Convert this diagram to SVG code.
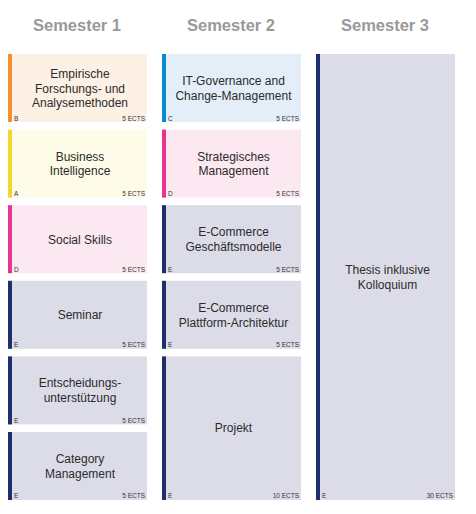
<svg xmlns="http://www.w3.org/2000/svg" width="476" height="514" viewBox="0 0 476 514">
<style>
.hd{font-family:"Liberation Sans",Arial,sans-serif;font-weight:bold;font-size:16.5px;fill:#999;text-anchor:middle}
.t{font-family:"Liberation Sans",Arial,sans-serif;font-size:12px;fill:#2b2b2b;text-anchor:middle}
.s{font-family:"Liberation Sans",Arial,sans-serif;font-size:6.5px;fill:#333}
.r{text-anchor:end}
.o{fill:#fdf0e4}.ob{fill:#f39233}
.y{fill:#fefbe9}.yb{fill:#f6d52a}
.p{fill:#fce8f0}.pb{fill:#e5378f}
.b{fill:#e3eef8}.bb{fill:#0a8ad0}
.n{fill:#dcdce8}.nb{fill:#1f2f6e}
</style>
<rect width="476" height="514" fill="#fff"/>
<g id="headers">
<text class="hd" x="77" y="31">Semester 1</text>
<text class="hd" x="231" y="31">Semester 2</text>
<text class="hd" x="385" y="31">Semester 3</text>
</g>
<g id="connectors"/>
<g id="c1n1"><rect class="o" x="8" y="54" width="139" height="68"/><rect class="ob" x="8" y="54" width="4" height="68"/>
<text class="t" x="80" y="78">Empirische</text><text class="t" x="80" y="93">Forschungs- und</text><text class="t" x="80" y="107">Analysemethoden</text>
<text class="s" x="14" y="120.5">B</text><text class="s r" x="145" y="120.5">5 ECTS</text></g>
<g id="c1n2"><rect class="y" x="8" y="129.6" width="139" height="68"/><rect class="yb" x="8" y="129.6" width="4" height="68"/>
<text class="t" x="80" y="160.5">Business</text><text class="t" x="80" y="175">Intelligence</text>
<text class="s" x="14" y="196">A</text><text class="s r" x="145" y="196">5 ECTS</text></g>
<g id="c1n3"><rect class="p" x="8" y="205.2" width="139" height="68"/><rect class="pb" x="8" y="205.2" width="4" height="68"/>
<text class="t" x="80" y="244">Social Skills</text>
<text class="s" x="14" y="271.6">D</text><text class="s r" x="145" y="271.6">5 ECTS</text></g>
<g id="c1n4"><rect class="n" x="8" y="280.8" width="139" height="68"/><rect class="nb" x="8" y="280.8" width="4" height="68"/>
<text class="t" x="80" y="319">Seminar</text>
<text class="s" x="14" y="347.2">E</text><text class="s r" x="145" y="347.2">5 ECTS</text></g>
<g id="c1n5"><rect class="n" x="8" y="356.4" width="139" height="68"/><rect class="nb" x="8" y="356.4" width="4" height="68"/>
<text class="t" x="80" y="387">Entscheidungs-</text><text class="t" x="80" y="402">unterstützung</text>
<text class="s" x="14" y="422.8">E</text><text class="s r" x="145" y="422.8">5 ECTS</text></g>
<g id="c1n6"><rect class="n" x="8" y="432" width="139" height="68"/><rect class="nb" x="8" y="432" width="4" height="68"/>
<text class="t" x="80" y="463">Category</text><text class="t" x="80" y="478">Management</text>
<text class="s" x="14" y="498.4">E</text><text class="s r" x="145" y="498.4">5 ECTS</text></g>
<g id="c2n1"><rect class="b" x="162" y="54" width="139" height="68"/><rect class="bb" x="162" y="54" width="4" height="68"/>
<text class="t" x="233.5" y="85">IT-Governance and</text><text class="t" x="233.5" y="100">Change-Management</text>
<text class="s" x="168" y="120.5">C</text><text class="s r" x="299" y="120.5">5 ECTS</text></g>
<g id="c2n2"><rect class="p" x="162" y="129.6" width="139" height="68"/><rect class="pb" x="162" y="129.6" width="4" height="68"/>
<text class="t" x="233.5" y="160.5">Strategisches</text><text class="t" x="233.5" y="175">Management</text>
<text class="s" x="168" y="196">D</text><text class="s r" x="299" y="196">5 ECTS</text></g>
<g id="c2n3"><rect class="n" x="162" y="205.2" width="139" height="68"/><rect class="nb" x="162" y="205.2" width="4" height="68"/>
<text class="t" x="233.5" y="236">E-Commerce</text><text class="t" x="233.5" y="251">Geschäftsmodelle</text>
<text class="s" x="168" y="271.6">E</text><text class="s r" x="299" y="271.6">5 ECTS</text></g>
<g id="c2n4"><rect class="n" x="162" y="280.8" width="139" height="68"/><rect class="nb" x="162" y="280.8" width="4" height="68"/>
<text class="t" x="233.5" y="311.5">E-Commerce</text><text class="t" x="233.5" y="326.5">Plattform-Architektur</text>
<text class="s" x="168" y="347.2">E</text><text class="s r" x="299" y="347.2">5 ECTS</text></g>
<g id="c2n5"><rect class="n" x="162" y="356.4" width="139" height="143.6"/><rect class="nb" x="162" y="356.4" width="4" height="143.6"/>
<text class="t" x="233.5" y="432">Projekt</text>
<text class="s" x="168" y="498.4">E</text><text class="s r" x="299" y="498.4">10 ECTS</text></g>
<g id="c3n1"><rect class="n" x="316" y="54" width="139" height="446"/><rect class="nb" x="316" y="54" width="4" height="446"/>
<text class="t" x="387.5" y="274">Thesis inklusive</text><text class="t" x="387.5" y="289">Kolloquium</text>
<text class="s" x="322" y="498.4">E</text><text class="s r" x="453" y="498.4">30 ECTS</text></g>
</svg>
